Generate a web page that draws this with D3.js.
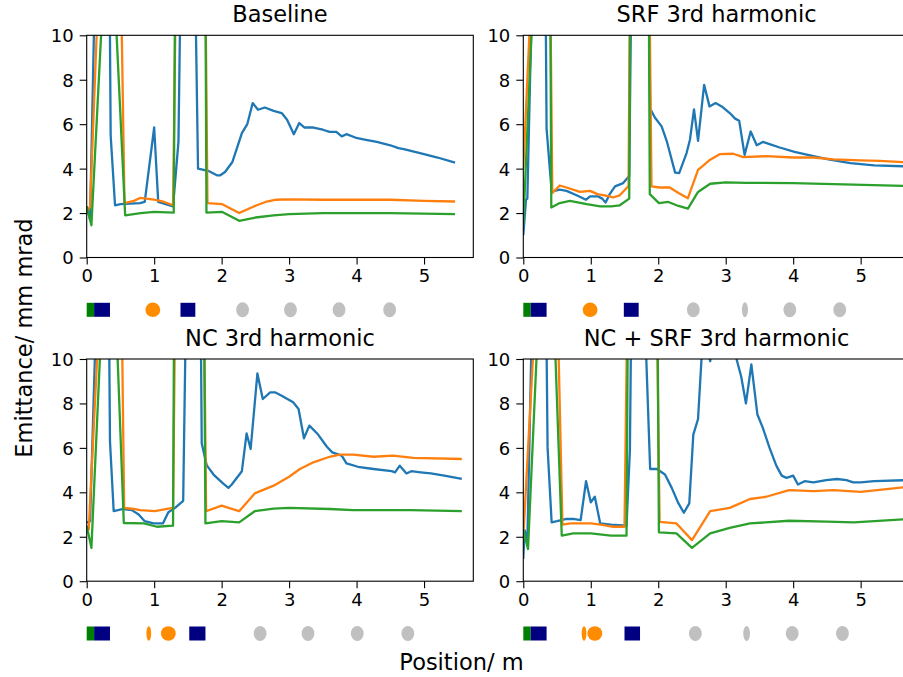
<!DOCTYPE html>
<html>
<head>
<meta charset="utf-8">
<script src="https://cdn.jsdelivr.net/npm/d3@7"></script>
<style>
  body { margin: 0; background: #fff; }
  svg { display: block; font-family: "DejaVu Sans", sans-serif; }
</style>
</head>
<body>
<svg id="chart" width="903" height="677"></svg>
<script>
// panel titles and ticks
var titles = ['Baseline', 'SRF 3rd harmonic', 'NC 3rd harmonic', 'NC + SRF 3rd harmonic'];
var xTicks = [0, 1, 2, 3, 4, 5];
var yTicks = [0, 2, 4, 6, 8, 10];

// emittance vs position [m, mm mrad]; values above 10 are off the top of the axes
var baseBlue = [[0,2.3],[0.05,1.7],[0.12,12],[0.34,12],[0.355,5.5],[0.42,2.35],[0.5,2.4],[0.79,2.45],[0.86,2.5],[1.0,5.85],[1.06,2.5],[1.28,2.3],[1.36,5.2],[1.39,12],[1.61,12],[1.65,4.0],[1.8,3.9],[1.93,3.7],[1.98,3.7],[2.05,3.85],[2.16,4.3],[2.3,5.6],[2.38,6.0],[2.46,6.95],[2.54,6.65],[2.64,6.75],[2.77,6.6],[2.89,6.5],[2.97,6.2],[3.07,5.55],[3.15,6.05],[3.23,5.85],[3.36,5.85],[3.5,5.75],[3.6,5.65],[3.7,5.65],[3.78,5.45],[3.85,5.55],[3.98,5.4],[4.1,5.32],[4.3,5.2],[4.5,5.05],[4.62,4.92],[4.7,4.88],[5.0,4.65],[5.2,4.5],[5.46,4.27]];
var baseOrange = [[0,2.0],[0.05,2.3],[0.16,11],[0.51,12],[0.56,2.45],[0.7,2.55],[0.79,2.68],[1.0,2.6],[1.15,2.5],[1.28,2.35],[1.32,12],[1.76,12],[1.79,2.45],[2.01,2.4],[2.26,2.0],[2.52,2.35],[2.65,2.5],[2.81,2.6],[3.0,2.62],[3.5,2.6],[4.0,2.6],[4.5,2.6],[5.0,2.55],[5.46,2.52]];
var baseGreen = [[0,2.3],[0.07,1.45],[0.23,11],[0.42,11.5],[0.57,1.9],[0.8,2.0],[1.0,2.05],[1.29,2.02],[1.31,12],[1.76,12],[1.775,2.02],[2.01,2.05],[2.26,1.65],[2.5,1.8],[2.77,1.9],[3.0,1.95],[3.5,2.0],[4.5,2.0],[5.46,1.95]];

var srfBlue = [[0,1.0],[0.04,2.6],[0.06,2.65],[0.13,12],[0.33,12],[0.345,5.8],[0.42,2.97],[0.54,3.05],[0.64,3.0],[0.79,2.8],[0.93,2.6],[0.99,2.75],[1.11,2.75],[1.17,2.65],[1.22,2.47],[1.28,2.85],[1.36,3.2],[1.48,3.35],[1.57,3.67],[1.6,12],[1.86,12],[1.88,6.7],[1.95,6.3],[2.05,5.9],[2.13,5.2],[2.25,3.82],[2.31,3.8],[2.42,4.7],[2.47,5.3],[2.53,6.67],[2.59,5.25],[2.68,7.77],[2.76,6.8],[2.85,6.95],[2.94,6.8],[3.06,6.5],[3.14,6.25],[3.2,6.15],[3.28,4.62],[3.37,5.67],[3.46,5.05],[3.55,5.2],[3.65,5.1],[3.8,4.95],[4.02,4.75],[4.25,4.6],[4.54,4.4],[4.85,4.25],[5.2,4.15],[5.7,4.1]];
var srfOrange = [[0,4.0],[0.105,11],[0.4,12],[0.43,2.9],[0.54,3.24],[0.64,3.15],[0.84,2.95],[0.99,3.0],[1.1,2.85],[1.28,2.75],[1.33,2.7],[1.43,2.8],[1.56,3.22],[1.58,12],[1.87,12],[1.9,3.2],[2.02,3.15],[2.17,3.15],[2.3,2.9],[2.44,2.67],[2.59,3.94],[2.77,4.4],[2.91,4.65],[3.11,4.67],[3.26,4.52],[3.6,4.56],[4.0,4.5],[4.3,4.5],[4.6,4.42],[5.0,4.37],[5.28,4.35],[5.7,4.28]];
var srfGreen = [[0,1.5],[0.15,12],[0.4,12],[0.415,2.25],[0.54,2.45],[0.69,2.55],[0.94,2.4],[1.14,2.3],[1.3,2.3],[1.43,2.35],[1.57,2.65],[1.585,12],[1.86,12],[1.875,2.85],[2.01,2.45],[2.15,2.5],[2.3,2.32],[2.44,2.2],[2.59,2.95],[2.77,3.32],[3.0,3.38],[3.3,3.36],[4.0,3.35],[4.6,3.3],[5.7,3.22]];

var ncBlue = [[0,2.64],[0.05,2.7],[0.14,12],[0.33,12],[0.345,6.3],[0.4,3.15],[0.54,3.25],[0.67,3.2],[0.77,3.0],[0.86,2.7],[0.99,2.6],[1.13,2.6],[1.21,3.1],[1.31,3.3],[1.43,3.62],[1.47,12],[1.69,12],[1.705,6.2],[1.78,5.21],[1.88,4.8],[2.02,4.4],[2.1,4.2],[2.15,4.35],[2.3,4.95],[2.37,6.65],[2.43,5.95],[2.53,9.35],[2.61,8.2],[2.72,8.5],[2.79,8.5],[2.89,8.35],[3.06,8.05],[3.14,7.75],[3.22,6.43],[3.3,7.0],[3.43,6.6],[3.56,6.05],[3.64,5.8],[3.78,5.65],[3.85,5.3],[4.02,5.15],[4.25,5.05],[4.52,4.95],[4.57,4.9],[4.64,5.2],[4.74,4.85],[4.81,4.95],[4.95,4.9],[5.1,4.85],[5.3,4.75],[5.56,4.6]];
var ncOrange = [[0.03,2.3],[0.17,11],[0.52,12],[0.555,3.3],[0.7,3.25],[0.79,3.2],[1.01,3.15],[1.19,3.25],[1.28,3.3],[1.31,12],[1.74,12],[1.77,3.15],[2.0,3.4],[2.26,3.15],[2.49,3.95],[2.77,4.3],[3.0,4.7],[3.16,5.05],[3.36,5.35],[3.6,5.6],[3.75,5.7],[3.95,5.7],[4.25,5.6],[4.54,5.65],[4.84,5.55],[5.56,5.5]];
var ncGreen = [[0,2.5],[0.07,1.5],[0.21,11],[0.44,11.5],[0.55,2.62],[0.85,2.6],[1.04,2.45],[1.28,2.5],[1.295,12],[1.74,12],[1.76,2.6],[2.0,2.7],[2.26,2.65],[2.49,3.15],[2.77,3.27],[3.0,3.3],[3.6,3.25],[3.95,3.2],[4.8,3.2],[5.56,3.15]];

var bothBlue = [[0,1.0],[0.02,2.3],[0.06,1.77],[0.13,12],[0.34,12],[0.36,6.0],[0.42,2.65],[0.5,2.7],[0.64,2.8],[0.74,2.8],[0.85,2.75],[0.93,4.5],[1.0,3.55],[1.06,3.8],[1.14,2.6],[1.3,2.55],[1.53,2.5],[1.58,5.9],[1.6,12],[1.8,12],[1.88,5.05],[1.98,5.05],[2.1,4.8],[2.2,4.2],[2.3,3.5],[2.38,3.08],[2.46,3.5],[2.52,6.6],[2.59,7.3],[2.66,11],[2.72,10.5],[2.77,9.9],[2.82,11],[3.05,11],[3.16,10],[3.23,9.2],[3.3,8.0],[3.38,9.76],[3.47,7.5],[3.55,6.9],[3.65,6.0],[3.75,5.2],[3.83,4.75],[3.9,4.65],[4.0,4.75],[4.07,4.35],[4.17,4.5],[4.3,4.45],[4.49,4.55],[4.65,4.6],[4.79,4.55],[4.89,4.45],[5.0,4.45],[5.2,4.5],[5.7,4.55]];
var bothOrange = [[0,2.0],[0.16,11],[0.51,12],[0.58,2.55],[0.7,2.6],[1.0,2.6],[1.15,2.55],[1.33,2.45],[1.5,2.45],[1.54,12],[1.98,12],[2.02,2.67],[2.27,2.6],[2.5,1.85],[2.77,3.15],[3.06,3.3],[3.36,3.7],[3.6,3.8],[3.94,4.1],[4.3,4.05],[4.6,4.1],[5.0,4.02],[5.7,4.25]];
var bothGreen = [[0,2.3],[0.07,1.45],[0.21,11],[0.46,11.5],[0.57,2.05],[0.74,2.15],[1.0,2.15],[1.3,2.05],[1.53,2.05],[1.55,12],[1.99,12],[2.01,2.2],[2.27,2.15],[2.5,1.5],[2.77,2.15],[3.06,2.4],[3.36,2.6],[3.94,2.72],[4.5,2.68],[4.9,2.65],[5.7,2.8]];

// beamline elements below each panel: [kind, start, end] in m
var baseElems = [['cathode',0,0.11],['magnet',0.11,0.345],['cavity',0.87,1.09],['magnet',1.39,1.61],
  ['module',2.215,2.405],['module',2.925,3.115],['module',3.645,3.835],['module',4.395,4.585]];
var srfElems = [['cathode',0,0.11],['magnet',0.11,0.345],['cavity',0.88,1.10],['magnet',1.49,1.71],
  ['module',2.425,2.615],['module',3.24,3.33],['module',3.855,4.045],['module',4.595,4.785]];
var ncElems = [['cathode',0,0.11],['magnet',0.11,0.345],['cavity',0.885,0.955],['cavity',1.10,1.32],['magnet',1.52,1.76],
  ['module',2.475,2.665],['module',3.185,3.375],['module',3.915,4.105],['module',4.665,4.855]];
var bothElems = [['cathode',0,0.11],['magnet',0.11,0.345],['cavity',0.865,0.935],['cavity',0.95,1.17],['magnet',1.50,1.73],
  ['module',2.455,2.645],['module',3.26,3.36],['module',3.89,4.08],['module',4.635,4.825]];

var colors = ['#1f77b4', '#ff7f0e', '#2ca02c'];
var elemStyle = {
  cathode: { shape: 'rect', fill: '#008000', h: 14 },
  magnet: { shape: 'rect', fill: '#000080', h: 14 },
  cavity: { shape: 'ellipse', fill: '#ff8c00', h: 14.6 },
  module: { shape: 'ellipse', fill: '#c0c0c0', h: 15 }
};

var panels = [
  { title: titles[0], series: [baseBlue, baseOrange, baseGreen], elems: baseElems, left: 86.7, top: 35.3 },
  { title: titles[1], series: [srfBlue, srfOrange, srfGreen], elems: srfElems, left: 523.3, top: 35.3 },
  { title: titles[2], series: [ncBlue, ncOrange, ncGreen], elems: ncElems, left: 86.7, top: 359 },
  { title: titles[3], series: [bothBlue, bothOrange, bothGreen], elems: bothElems, left: 523.3, top: 359 }
];

var W = 386.6, H = 222.2;
var svg = d3.select('#chart');

var x = d3.scaleLinear().domain([0, 5.73]).range([0, W]);
var y = d3.scaleLinear().domain([0, 10]).range([H, 0]);

var line = d3.line()
  .x(function(d) { return x(d[0]); })
  .y(function(d) { return y(d[1]); });

panels.forEach(function(p, i) {
  var g = svg.append('g').attr('transform', 'translate(' + p.left + ',' + p.top + ')');

  g.append('clipPath').attr('id', 'clip' + i)
    .append('rect').attr('width', W).attr('height', H);

  var plot = g.append('g').attr('clip-path', 'url(#clip' + i + ')');
  p.series.forEach(function(s, k) {
    plot.append('path')
      .datum(s)
      .attr('fill', 'none')
      .attr('stroke', colors[k])
      .attr('stroke-width', 2.3)
      .attr('stroke-linejoin', 'round')
      .attr('d', line);
  });

  // frame
  g.append('rect')
    .attr('width', W).attr('height', H)
    .attr('fill', 'none').attr('stroke', '#000').attr('stroke-width', 1.1);

  var yAxis = g.append('g')
    .call(d3.axisLeft(y).tickValues(yTicks).tickSize(7).tickPadding(6).tickFormat(d3.format('d')));
  var xAxis = g.append('g')
    .attr('transform', 'translate(0,' + H + ')')
    .call(d3.axisBottom(x).tickValues(xTicks).tickSize(7).tickPadding(4).tickFormat(d3.format('d')));

  [xAxis, yAxis].forEach(function(a) {
    a.select('.domain').remove();
    a.selectAll('line').attr('stroke', '#000').attr('stroke-width', 1.1);
    a.selectAll('text').attr('fill', '#000').style('font-size', '18px')
      .style('font-family', '"DejaVu Sans", sans-serif');
  });
  yAxis.selectAll('text').attr('dy', '0.36em');
  xAxis.selectAll('text').attr('dy', '0.74em');

  g.append('text')
    .attr('x', W / 2).attr('y', -13)
    .attr('text-anchor', 'middle')
    .style('font-size', '22.5px')
    .text(p.title);

  // beamline layout strip
  var strip = g.append('g').attr('transform', 'translate(0,' + (H + 52.3) + ')');
  p.elems.forEach(function(e) {
    var st = elemStyle[e[0]];
    var x0 = x(e[1]), x1 = x(e[2]);
    if (st.shape === 'rect') {
      strip.append('rect')
        .attr('x', x0).attr('y', -st.h / 2)
        .attr('width', x1 - x0).attr('height', st.h)
        .attr('fill', st.fill);
    } else {
      strip.append('ellipse')
        .attr('cx', (x0 + x1) / 2).attr('cy', 0)
        .attr('rx', (x1 - x0) / 2).attr('ry', st.h / 2)
        .attr('fill', st.fill);
    }
  });
});

svg.append('text')
  .attr('x', 461.5).attr('y', 670)
  .attr('text-anchor', 'middle')
  .style('font-size', '22.5px')
  .text('Position/ m');

svg.append('text')
  .attr('transform', 'translate(31.5,338) rotate(-90)')
  .attr('text-anchor', 'middle')
  .style('font-size', '22.5px')
  .text('Emittance/ mm mrad');
</script>
</body>
</html>
